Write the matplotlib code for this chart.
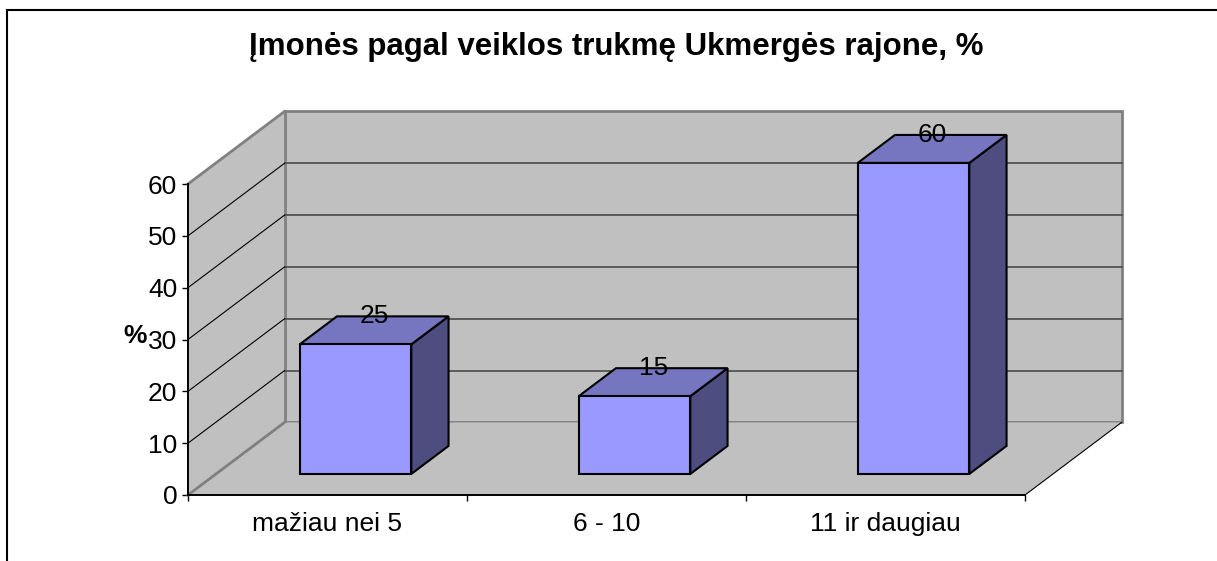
import matplotlib
matplotlib.use("Agg")
import matplotlib.pyplot as plt
from matplotlib.patches import Polygon
from matplotlib.lines import Line2D

# ---- data ----
categories = ["mažiau nei 5", "6 - 10", "11 ir daugiau"]
values = [25, 15, 60]
yticks = [0, 10, 20, 30, 40, 50, 60]
title = "Įmonės pagal veiklos trukmę Ukmergės rajone, %"
ylabel = "%"

plt.rcParams['font.family'] = ['Liberation Sans', 'DejaVu Sans']

W, H = 1217, 561
fig = plt.figure(figsize=(W / 100, H / 100), dpi=100)
fig.patch.set_facecolor("white")
ax = fig.add_axes([188 / W, (H - 495) / H, 837 / W, 311 / H])
ncat = len(categories)
ymax = yticks[-1]
ax.set_xlim(0, ncat)
ax.set_ylim(0, ymax)
ax.patch.set_alpha(0)

# oblique depth vector in data units (full depth of the 3D box)
DX, DY = 0.346, 14.0


def P(x, y, d):
    return (x + d * DX, y + d * DY)


WALL = "#C0C0C0"
EDGE = "#808080"

# walls and floor
side = Polygon([P(0, 0, 0), P(0, ymax, 0), P(0, ymax, 1), P(0, 0, 1)],
               closed=True, facecolor=WALL, edgecolor="none", zorder=1, clip_on=False)
back = Polygon([P(0, 0, 1), P(ncat, 0, 1), P(ncat, ymax, 1), P(0, ymax, 1)],
               closed=True, facecolor=WALL, edgecolor=EDGE, lw=2.0, zorder=1, clip_on=False)
floor = Polygon([P(0, 0, 0), P(ncat, 0, 0), P(ncat, 0, 1), P(0, 0, 1)],
                closed=True, facecolor=WALL, edgecolor="none", zorder=1, clip_on=False)
for p in (side, back, floor):
    ax.add_patch(p)


def seg(a, b, **kw):
    ax.add_line(Line2D([a[0], b[0]], [a[1], b[1]], clip_on=False, **kw))


# wall edges
seg(P(0, ymax, 0), P(0, ymax, 1), color=EDGE, lw=2.0, zorder=2)
seg(P(0, 0, 0), P(0, 0, 1), color=EDGE, lw=2.0, zorder=2)
seg(P(ncat, 0, 0), P(ncat, 0, 1), color="black", lw=0.8, zorder=2)

# gridlines
for v in yticks[1:-1]:
    seg(P(0, v, 1), P(ncat, v, 1), color="#4a4a4a", lw=1.2, zorder=2)
    seg(P(0, v, 0), P(0, v, 1), color="black", lw=0.8, zorder=2)

# bars
FRONT = "#9999FF"
TOP = "#7575C0"
SIDE = "#4D4D80"
f1, f2 = 0.29, 0.676
bw = 0.4
for i, v in enumerate(values):
    x0 = i + 0.5 - bw / 2
    x1 = i + 0.5 + bw / 2
    faces = [
        ([P(x1, 0, f1), P(x1, 0, f2), P(x1, v, f2), P(x1, v, f1)], SIDE),
        ([P(x0, v, f1), P(x1, v, f1), P(x1, v, f2), P(x0, v, f2)], TOP),
        ([P(x0, 0, f1), P(x1, 0, f1), P(x1, v, f1), P(x0, v, f1)], FRONT),
    ]
    for pts, col in faces:
        ax.add_patch(Polygon(pts, closed=True, facecolor=col, edgecolor="black",
                             lw=1.5, joinstyle="miter", zorder=3, clip_on=False))
    lx = i + 0.5 + (f1 + f2) / 2 * DX
    ly = v + f2 * DY
    ax.text(lx, ly, str(v), ha="center", va="center", fontsize=19, zorder=4)

# axes styling
for s in ("top", "right"):
    ax.spines[s].set_visible(False)
for s in ("left", "bottom"):
    ax.spines[s].set_color("black")
    ax.spines[s].set_linewidth(1.4)
    ax.spines[s].set_zorder(2.5)
ax.set_yticks(yticks)
ax.set_yticklabels([str(t) for t in yticks])
ax.tick_params(axis="y", direction="out", length=4.3, width=1.0, pad=3.5, labelsize=19)
ax.set_xticks(range(ncat + 1))
ax.set_xticklabels([])
ax.set_xticks([i + 0.5 for i in range(ncat)], minor=True)
ax.set_xticklabels(categories, minor=True)
ax.tick_params(axis="x", which="major", direction="out", length=4.3, width=1.0)
ax.tick_params(axis="x", which="minor", length=0, pad=12, labelsize=19)

# axis label and title
fig.text(135 / W, 1 - 336 / H, ylabel, ha="center", va="center",
         fontsize=19, fontweight="bold")
fig.text(616 / W, 1 - 47 / H, title, ha="center", va="center",
         fontsize=22.5, fontweight="bold")

# chart area border (top and left visible)
fig.add_artist(Line2D([7 / W, 7 / W], [0, 1 - 10 / H], transform=fig.transFigure,
                      color="black", lw=1.5))
fig.add_artist(Line2D([7 / W, 1], [1 - 10 / H, 1 - 10 / H], transform=fig.transFigure,
                      color="black", lw=1.5))

fig.savefig("out.png", dpi=100)
